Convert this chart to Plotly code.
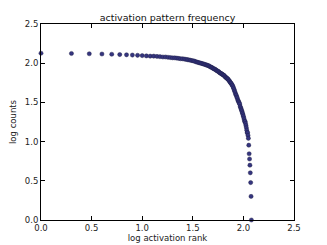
import numpy as np
import plotly.graph_objects as go

ranks = list(range(1, 121))
counts = [
    134, 133, 132, 131, 130, 129, 128, 127, 126, 125,
    124, 123, 123, 122, 121, 120, 120, 119, 118, 117,
    117, 116, 115, 114, 114, 113, 112,
    111, 110, 109, 108, 107,
    106, 104, 103, 102, 101, 100, 99, 98,
    97, 96, 95, 94, 93, 92, 90,
    89, 88, 86, 85, 84, 83, 81, 80, 79, 78, 76, 75,
    74, 73, 72, 71,
    70, 69, 67, 66, 65, 64, 63, 62,
    60, 59, 57,
    56, 55, 53, 52, 50,
    48, 46, 44, 42,
    40, 39, 37, 36, 34, 33,
    32, 31, 30, 28,
    27, 26, 25, 24, 23, 22, 21,
    20, 19, 18, 18, 17, 16, 15, 14,
    13, 13, 12, 11,
    9, 7, 6, 5, 4, 3, 2, 1,
]
x_ticks = [0.0, 0.5, 1.0, 1.5, 2.0, 2.5]
y_ticks = [0.0, 0.5, 1.0, 1.5, 2.0, 2.5]

log_rank = np.log10(ranks)
log_counts = np.log10(counts)

fig = go.Figure(go.Scatter(
    x=log_rank, y=log_counts, mode="markers",
    marker=dict(size=4.2, color="#35357f", line=dict(color="#1a1a40", width=0.4)),
    cliponaxis=False,
))

axis_common = dict(
    showgrid=False, zeroline=False, showline=True, linecolor="#000000", linewidth=1,
    mirror="ticks", ticks="inside", ticklen=4, tickwidth=0.8, tickcolor="#000000",
    tickfont=dict(family="DejaVu Sans", size=8.5, color="#222222"),
    automargin=False,
)
fig.update_xaxes(range=[0, 2.5], tickvals=x_ticks, ticktext=[f"{v:.1f}" for v in x_ticks],
                 title=dict(text="log activation rank", font=dict(family="DejaVu Sans", size=8.5, color="#222222"), standoff=2),
                 **axis_common)
fig.update_yaxes(range=[0, 2.5], tickvals=y_ticks, ticktext=[f"{v:.1f}" for v in y_ticks],
                 title=dict(text="log counts", font=dict(family="DejaVu Sans", size=8.5, color="#222222"), standoff=6),
                 **axis_common)
fig.update_layout(
    width=327, height=245,
    margin=dict(l=41, r=33, t=24, b=25, autoexpand=False),
    paper_bgcolor="white", plot_bgcolor="white",
    showlegend=False,
    title=dict(text="activation pattern frequency", x=0.5, xanchor="center", xref="paper",
               y=1 - 18 / 245, yanchor="middle", automargin=False,
               font=dict(family="DejaVu Sans", size=9.5, color="#111111")),
)
fig.write_html("out.html", config={"displayModeBar": False},
               post_script="document.body.style.margin='0';document.body.style.overflow='hidden';")
